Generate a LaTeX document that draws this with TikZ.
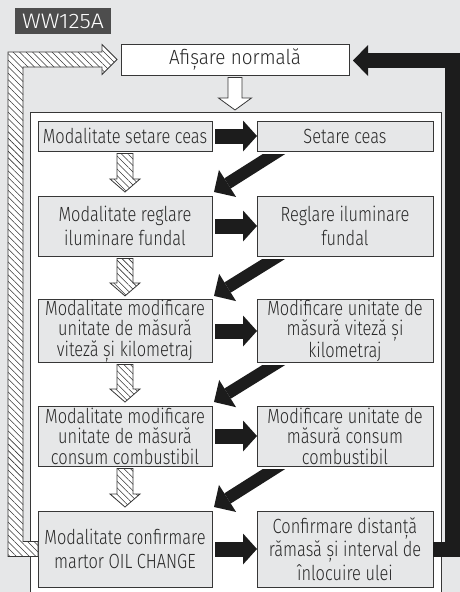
\documentclass[tikz,border=0pt]{standalone}
\usepackage{fontspec}
\setmainfont{Fira Sans}
\newfontfamily\condfont{Fira Sans Light}[FakeStretch=0.80]
\newfontfamily\widefont{Fira Sans Light}[FakeStretch=0.92]
\usetikzlibrary{calc,arrows.meta,patterns.meta}
\definecolor{bg}{RGB}{230,231,232}
\definecolor{boxfill}{RGB}{230,231,232}
\definecolor{boxline}{RGB}{55,55,55}
\definecolor{txt}{RGB}{40,40,40}
\definecolor{lblfill}{RGB}{77,77,77}
\definecolor{arrowblack}{RGB}{28,28,28}
\newcommand\hatchdown[2]{%
  \path[hatchfill] ($(#1.south)+(-8,2.5)$) -- ($(#2.north)+(-8,-17)$) -- ($(#2.north)+(-15,-17)$) -- ($(#2.north)+(0,-4)$) -- ($(#2.north)+(15,-17)$) -- ($(#2.north)+(8,-17)$) -- ($(#1.south)+(8,2.5)$) -- cycle;}
\newcommand\diagarrow[2]{%
  \begin{scope}
    \clip ($(#1.south west)+(-120,3)$) rectangle ($(#1.south east)+(0,110)$);
    \draw[blkdiag] ($(#1.south west)+(35,-8.4)$) -- ($(#2.north east)+(2,-4)$);
  \end{scope}}
\begin{document}
\begin{tikzpicture}[x=1pt,y=-1pt,
  box/.style={draw=boxline, fill=boxfill, line width=0.9pt, inner sep=0pt, outer sep=0pt, align=center, text=txt, font=\condfont\fontsize{20.5}{24.5}\selectfont},
  tight/.style={font=\condfont\fontsize{20.5}{20.5}\selectfont},
  lbox/.style={box, minimum width=174pt},
  rbox/.style={box, minimum width=176pt},
  hatchfill/.style={draw=boxline, line width=0.8pt, preaction={fill=white}, pattern={Lines[angle=-45,distance=4.6pt,line width=0.55pt]}, pattern color=boxline},
  whitearrow/.style={draw=boxline, line width=0.8pt, fill=white},
  blk/.style={draw=arrowblack, line width=15pt, -{Triangle[width=31pt,length=14pt,line width=0pt]}},
  blkdiag/.style={draw=arrowblack, line width=12pt, -{Triangle[width=32pt,length=16pt,line width=0pt]}},
  blkret/.style={draw=arrowblack, line width=15pt, line join=miter, -{Triangle[width=31pt,length=15pt,line width=0pt]}}
]
\clip (0,0) rectangle (460,592);
\fill[bg] (0,0) rectangle (460,592);
% label
\node[fill=lblfill, text=white, minimum width=96pt, minimum height=26pt, inner sep=0pt, font=\condfont\fontsize{21}{24}\selectfont\addfontfeature{FakeStretch=1.1}] (lbl) at (63,21) {WW125A};
% container
\node[draw=boxline, fill=white, line width=0.9pt, minimum width=411pt, minimum height=520pt, anchor=north west, inner sep=0pt, outer sep=0pt] (cont) at (30,112) {};
% top box
\node[box, fill=white, minimum width=228pt, minimum height=31pt, font=\widefont\fontsize{20.5}{24}\selectfont] (af) at (235,59.5) {Afișare normală};
% white arrow
\path[whitearrow] ($(af.south)+(-7,2.5)$) -- ($(af.south)+(-7,23)$) -- ($(af.south)+(-16.5,23)$) -- ($(af.south |- cont.north)+(0,-2)$) -- ($(af.south)+(16.5,23)$) -- ($(af.south)+(7,23)$) -- ($(af.south)+(7,2.5)$) -- cycle;
% boxes
\node[lbox, minimum height=30pt] (L1) at (125,136) {Modalitate setare ceas};
\node[rbox, minimum height=30pt] (R1) at (345,136) {Setare ceas};
\node[lbox, minimum height=60pt] (L2) at (125,226) {Modalitate reglare\\iluminare fundal};
\node[rbox, minimum height=60pt] (R2) at (345,226) {Reglare iluminare\\fundal};
\node[lbox, tight, minimum height=60pt] (L3) at (125,331) {Modalitate modificare\\unitate de măsură\\viteză și kilometraj};
\node[rbox, tight, minimum height=60pt] (R3) at (345,331) {Modificare unitate de\\măsură viteză și\\kilometraj};
\node[lbox, tight, minimum height=60pt] (L4) at (125,436) {Modalitate modificare\\unitate de măsură\\consum combustibil};
\node[rbox, tight, minimum height=60pt] (R4) at (345,436) {Modificare unitate de\\măsură consum\\combustibil};
\node[lbox, minimum height=76pt] (L5) at (125,549) {Modalitate confirmare\\martor OIL CHANGE};
\node[rbox, font=\condfont\fontsize{20.5}{23.5}\selectfont, minimum height=76pt] (R5) at (345,549) {Confirmare distanță\\rămasă și interval de\\înlocuire ulei};
% hatched return arrow
\coordinate (hx) at (15.5,0);
\path[hatchfill] ($(L5.west)+(0,-7.5)$) -- ($(hx |- L5.west)+(7.5,-7.5)$) -- ($(hx |- af.west)+(7.5,7.5)$) -- ($(af.west)+(-19,7.5)$) -- ($(af.west)+(-19,15)$) -- ($(af.west)+(-4,0)$) -- ($(af.west)+(-19,-15)$) -- ($(af.west)+(-19,-7.5)$) -- ($(hx |- af.west)+(-7.5,-7.5)$) -- ($(hx |- L5.west)+(-7.5,7.5)$) -- ($(L5.west)+(0,7.5)$) -- cycle;
% hatched down arrows
\hatchdown{L1}{L2}
\hatchdown{L2}{L3}
\hatchdown{L3}{L4}
\hatchdown{L4}{L5}
% black right arrows
\draw[blk] ($(L1.east)+(3,0)$) -- (R1.west);
\draw[blk] ($(L2.east)+(3,0)$) -- (R2.west);
\draw[blk] ($(L3.east)+(3,0)$) -- (R3.west);
\draw[blk] ($(L4.east)+(3,0)$) -- (R4.west);
\draw[blk] ($(L5.east)+(3,0)$) -- (R5.west);
% diagonal arrows
\diagarrow{R1}{L2}
\diagarrow{R2}{L3}
\diagarrow{R3}{L4}
\diagarrow{R4}{L5}
% black return arrow
\coordinate (rc) at (452.5,0);
\draw[blkret] (R5.east) -- (R5.east -| rc) -- ($(rc |- af.east)+(0,1)$) -- ($(af.east)+(4,1)$);
\end{tikzpicture}
\end{document}
